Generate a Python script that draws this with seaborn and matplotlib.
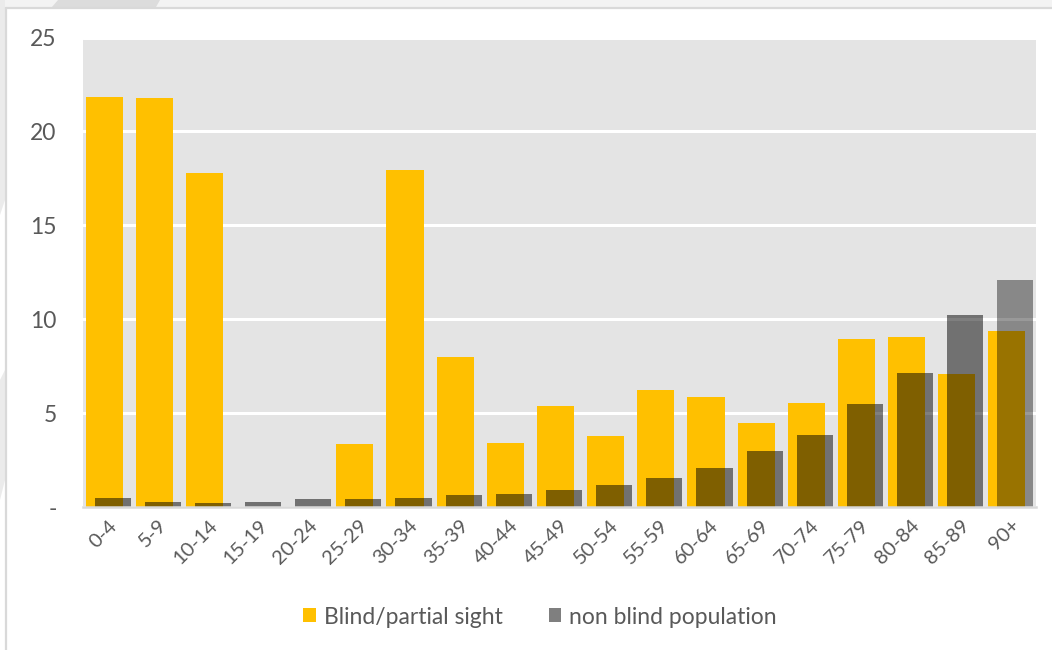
import numpy as np
import pandas as pd
import matplotlib
matplotlib.use("Agg")
import matplotlib.pyplot as plt
from matplotlib.patches import Patch, Polygon, Rectangle
import seaborn as sns

# Age bands and percentage of each group falling in the band
age_bands = ["0-4", "5-9", "10-14", "15-19", "20-24", "25-29", "30-34", "35-39",
             "40-44", "45-49", "50-54", "55-59", "60-64", "65-69", "70-74",
             "75-79", "80-84", "85-89", "90+"]
blind_partial = [21.85, 21.77, 17.78, 0.0, 0.0, 3.36, 17.94, 7.98, 3.41, 5.40,
                 3.79, 6.22, 5.88, 4.48, 5.52, 8.96, 9.03, 7.08, 9.39]
non_blind = [0.49, 0.28, 0.20, 0.28, 0.41, 0.41, 0.49, 0.63, 0.70, 0.91, 1.18,
             1.53, 2.08, 3.00, 3.86, 5.47, 7.14, 10.22, 12.10]
y_ticks = [0, 5, 10, 15, 20, 25]
y_tick_labels = ["-", "5", "10", "15", "20", "25"]
series_names = ["Blind/partial sight", "non blind population"]

sns.set_theme(style="white")
plt.rcParams["font.family"] = ["Lato", "DejaVu Sans"]

TEXT = "#595959"
YELLOW = "#FFC000"

W, H = 1052, 650
fig = plt.figure(figsize=(W / 100, H / 100), dpi=100, facecolor="white")

# page decoration: header strip and frame around the chart
fig.patches.append(Rectangle((0, 1 - 7 / H), 1, 7 / H, transform=fig.transFigure,
                             facecolor="#f3f3f3", edgecolor="none", zorder=0))
fig.patches.append(Polygon([(58 / W, 1), (160 / W, 1), (156 / W, 1 - 7 / H), (52 / W, 1 - 7 / H)],
                           closed=True, transform=fig.transFigure,
                           facecolor="#dcdcdc", edgecolor="none", zorder=0))
fig.patches.append(Polygon([(0, 1), (5 / W, 1), (5 / W, 1 - 200 / H), (0, 1 - 215 / H)],
                           closed=True, transform=fig.transFigure,
                           facecolor="#ebebeb", edgecolor="none", zorder=0))
fig.patches.append(Polygon([(0, 1 - 380 / H), (5 / W, 1 - 370 / H), (5 / W, 1 - 480 / H), (0, 1 - 500 / H)],
                           closed=True, transform=fig.transFigure,
                           facecolor="#ebebeb", edgecolor="none", zorder=0))
fig.lines.append(plt.Line2D([6 / W, 6 / W], [0, 1 - 7.5 / H], transform=fig.transFigure,
                            color="#d9d9d9", lw=1.6))
fig.lines.append(plt.Line2D([6 / W, 1], [1 - 7.5 / H, 1 - 7.5 / H], transform=fig.transFigure,
                            color="#d9d9d9", lw=1.6))

ax = fig.add_axes([83 / W, (H - 507) / H, (1036 - 83) / W, (507 - 37.5) / H])
ax.set_facecolor("#E4E4E4")

pos = np.arange(len(age_bands))
df_blind = pd.DataFrame({"x": pos - 0.08, "value": blind_partial})
df_pop = pd.DataFrame({"x": pos + 0.09, "value": non_blind})

sns.barplot(data=df_blind, x="x", y="value", native_scale=True, width=0.74,
            color=YELLOW, saturation=1, edgecolor="none", ax=ax, zorder=2)
n_yellow = len(ax.patches)
sns.barplot(data=df_pop, x="x", y="value", native_scale=True, width=0.72,
            color="black", saturation=1, alpha=0.5, edgecolor="none", ax=ax, zorder=3)
# the oldest band is shaded a little lighter
ax.patches[n_yellow + len(age_bands) - 1].set_alpha(0.4)

ax.set_xlim(-0.5, len(age_bands) - 0.5)
ax.set_ylim(0, 25)
ax.set_yticks(y_ticks)
ax.set_yticklabels(y_tick_labels)
ax.set_xticks(pos)
ax.set_xticklabels(age_bands, rotation=45, ha="right", rotation_mode="anchor")
ax.tick_params(axis="y", length=0, pad=19, labelsize=16.5, labelcolor=TEXT)
ax.tick_params(axis="x", length=0, pad=7, labelsize=14.5, labelcolor=TEXT)
ax.set_xlabel("")
ax.set_ylabel("")

ax.yaxis.grid(True, color="white", lw=2.2)
ax.xaxis.grid(False)
ax.set_axisbelow(True)
for side in ["top", "right", "left"]:
    ax.spines[side].set_visible(False)
ax.spines["bottom"].set_color("#d9d9d9")
ax.spines["bottom"].set_linewidth(1.8)
ax.spines["bottom"].set_zorder(4)

handles = [Patch(facecolor=YELLOW, edgecolor="none"),
           Patch(facecolor="black", alpha=0.5, edgecolor="none")]
fig.legend(handles, series_names, loc="center", bbox_to_anchor=(540 / W, (H - 617) / H),
           ncol=2, frameon=False, fontsize=16.5, labelcolor=TEXT,
           handlelength=0.55, handleheight=0.55, handletextpad=0.35, columnspacing=2.0)

fig.savefig("out.png", dpi=100, facecolor="white")
